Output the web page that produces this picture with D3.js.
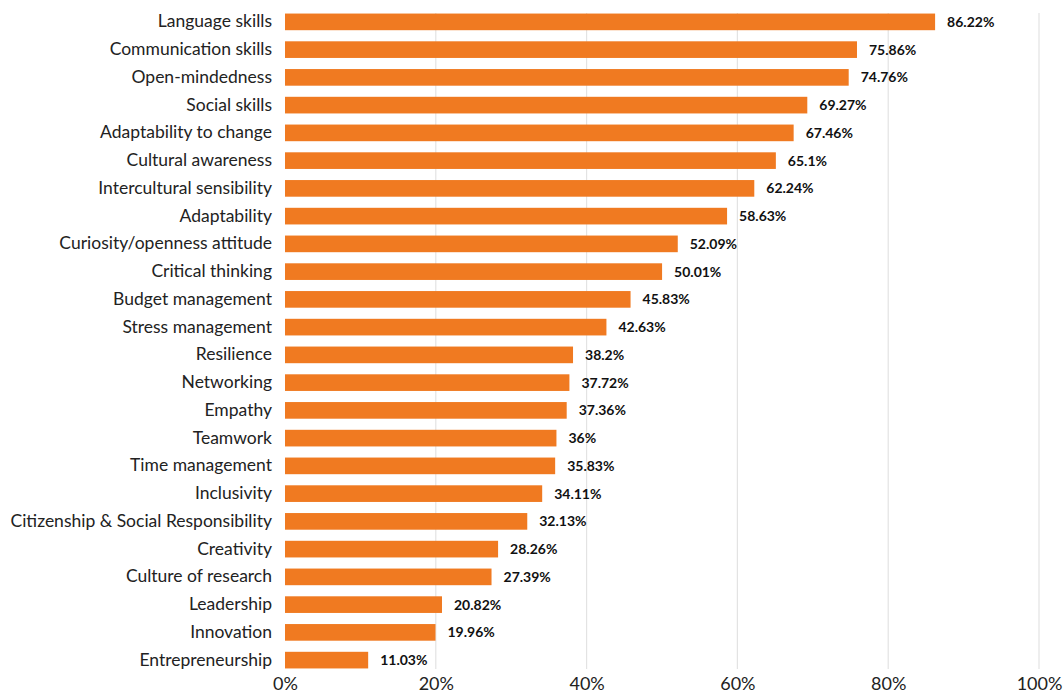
<!DOCTYPE html>
<html><head><meta charset="utf-8">
<script src="https://cdn.jsdelivr.net/npm/d3@7"></script>
<style>body{margin:0;background:#fff}svg{display:block}</style>
</head><body>
<svg id="c" width="1063" height="695"></svg>
<script>
const categories = ["Language skills","Communication skills","Open-mindedness","Social skills","Adaptability to change","Cultural awareness","Intercultural sensibility","Adaptability","Curiosity/openness attitude","Critical thinking","Budget management","Stress management","Resilience","Networking","Empathy","Teamwork","Time management","Inclusivity","Citizenship & Social Responsibility","Creativity","Culture of research","Leadership","Innovation","Entrepreneurship"];
const values = [86.22,75.86,74.76,69.27,67.46,65.1,62.24,58.63,52.09,50.01,45.83,42.63,38.2,37.72,37.36,36,35.83,34.11,32.13,28.26,27.39,20.82,19.96,11.03];
const tickValues = [0,20,40,60,80,100];

const svg = d3.select("#c");
const x = d3.scaleLinear().domain([0,100]).range([285,1039]);
const y = d3.scaleBand().domain(categories).range([8,674]).paddingInner(0.4).paddingOuter(0.2);
const font = "Lato, 'Open Sans', sans-serif";

// gridlines
svg.append("g").selectAll("line").data(tickValues.slice(1)).join("line")
  .attr("x1",d=>x(d)).attr("x2",d=>x(d)).attr("y1",13).attr("y2",669)
  .attr("stroke","#e3e3e3").attr("stroke-width",1.2);

// bars
svg.append("g").selectAll("rect").data(values).join("rect")
  .attr("x",x(0)).attr("y",(d,i)=>y(categories[i]))
  .attr("width",d=>x(d)-x(0)).attr("height",y.bandwidth())
  .attr("fill","#f07a21");

// value labels
svg.append("g").selectAll("text").data(values).join("text")
  .attr("x",d=>x(d)+12).attr("y",(d,i)=>y(categories[i])+y.bandwidth()/2)
  .attr("dy","0.35em").attr("font-family",font).attr("font-weight","bold")
  .attr("font-size",14).attr("fill","#111").text(d=>d+"%");

// category axis
const ya = svg.append("g").attr("transform",`translate(${x(0)},0)`)
  .call(d3.axisLeft(y).tickSize(0).tickPadding(13));
ya.select(".domain").remove();
ya.selectAll("text").attr("font-family",font).attr("font-size",17.5).attr("fill","#222");

// x axis
const xa = svg.append("g").attr("transform","translate(0,0)")
  .call(d3.axisBottom(x).tickValues(tickValues).tickSize(0).tickFormat(d=>d+"%"));
xa.select(".domain").remove();
xa.selectAll("text").attr("y",690).attr("dy",null).attr("font-family",font).attr("font-size",18).attr("fill","#222");
</script>
</body></html>
